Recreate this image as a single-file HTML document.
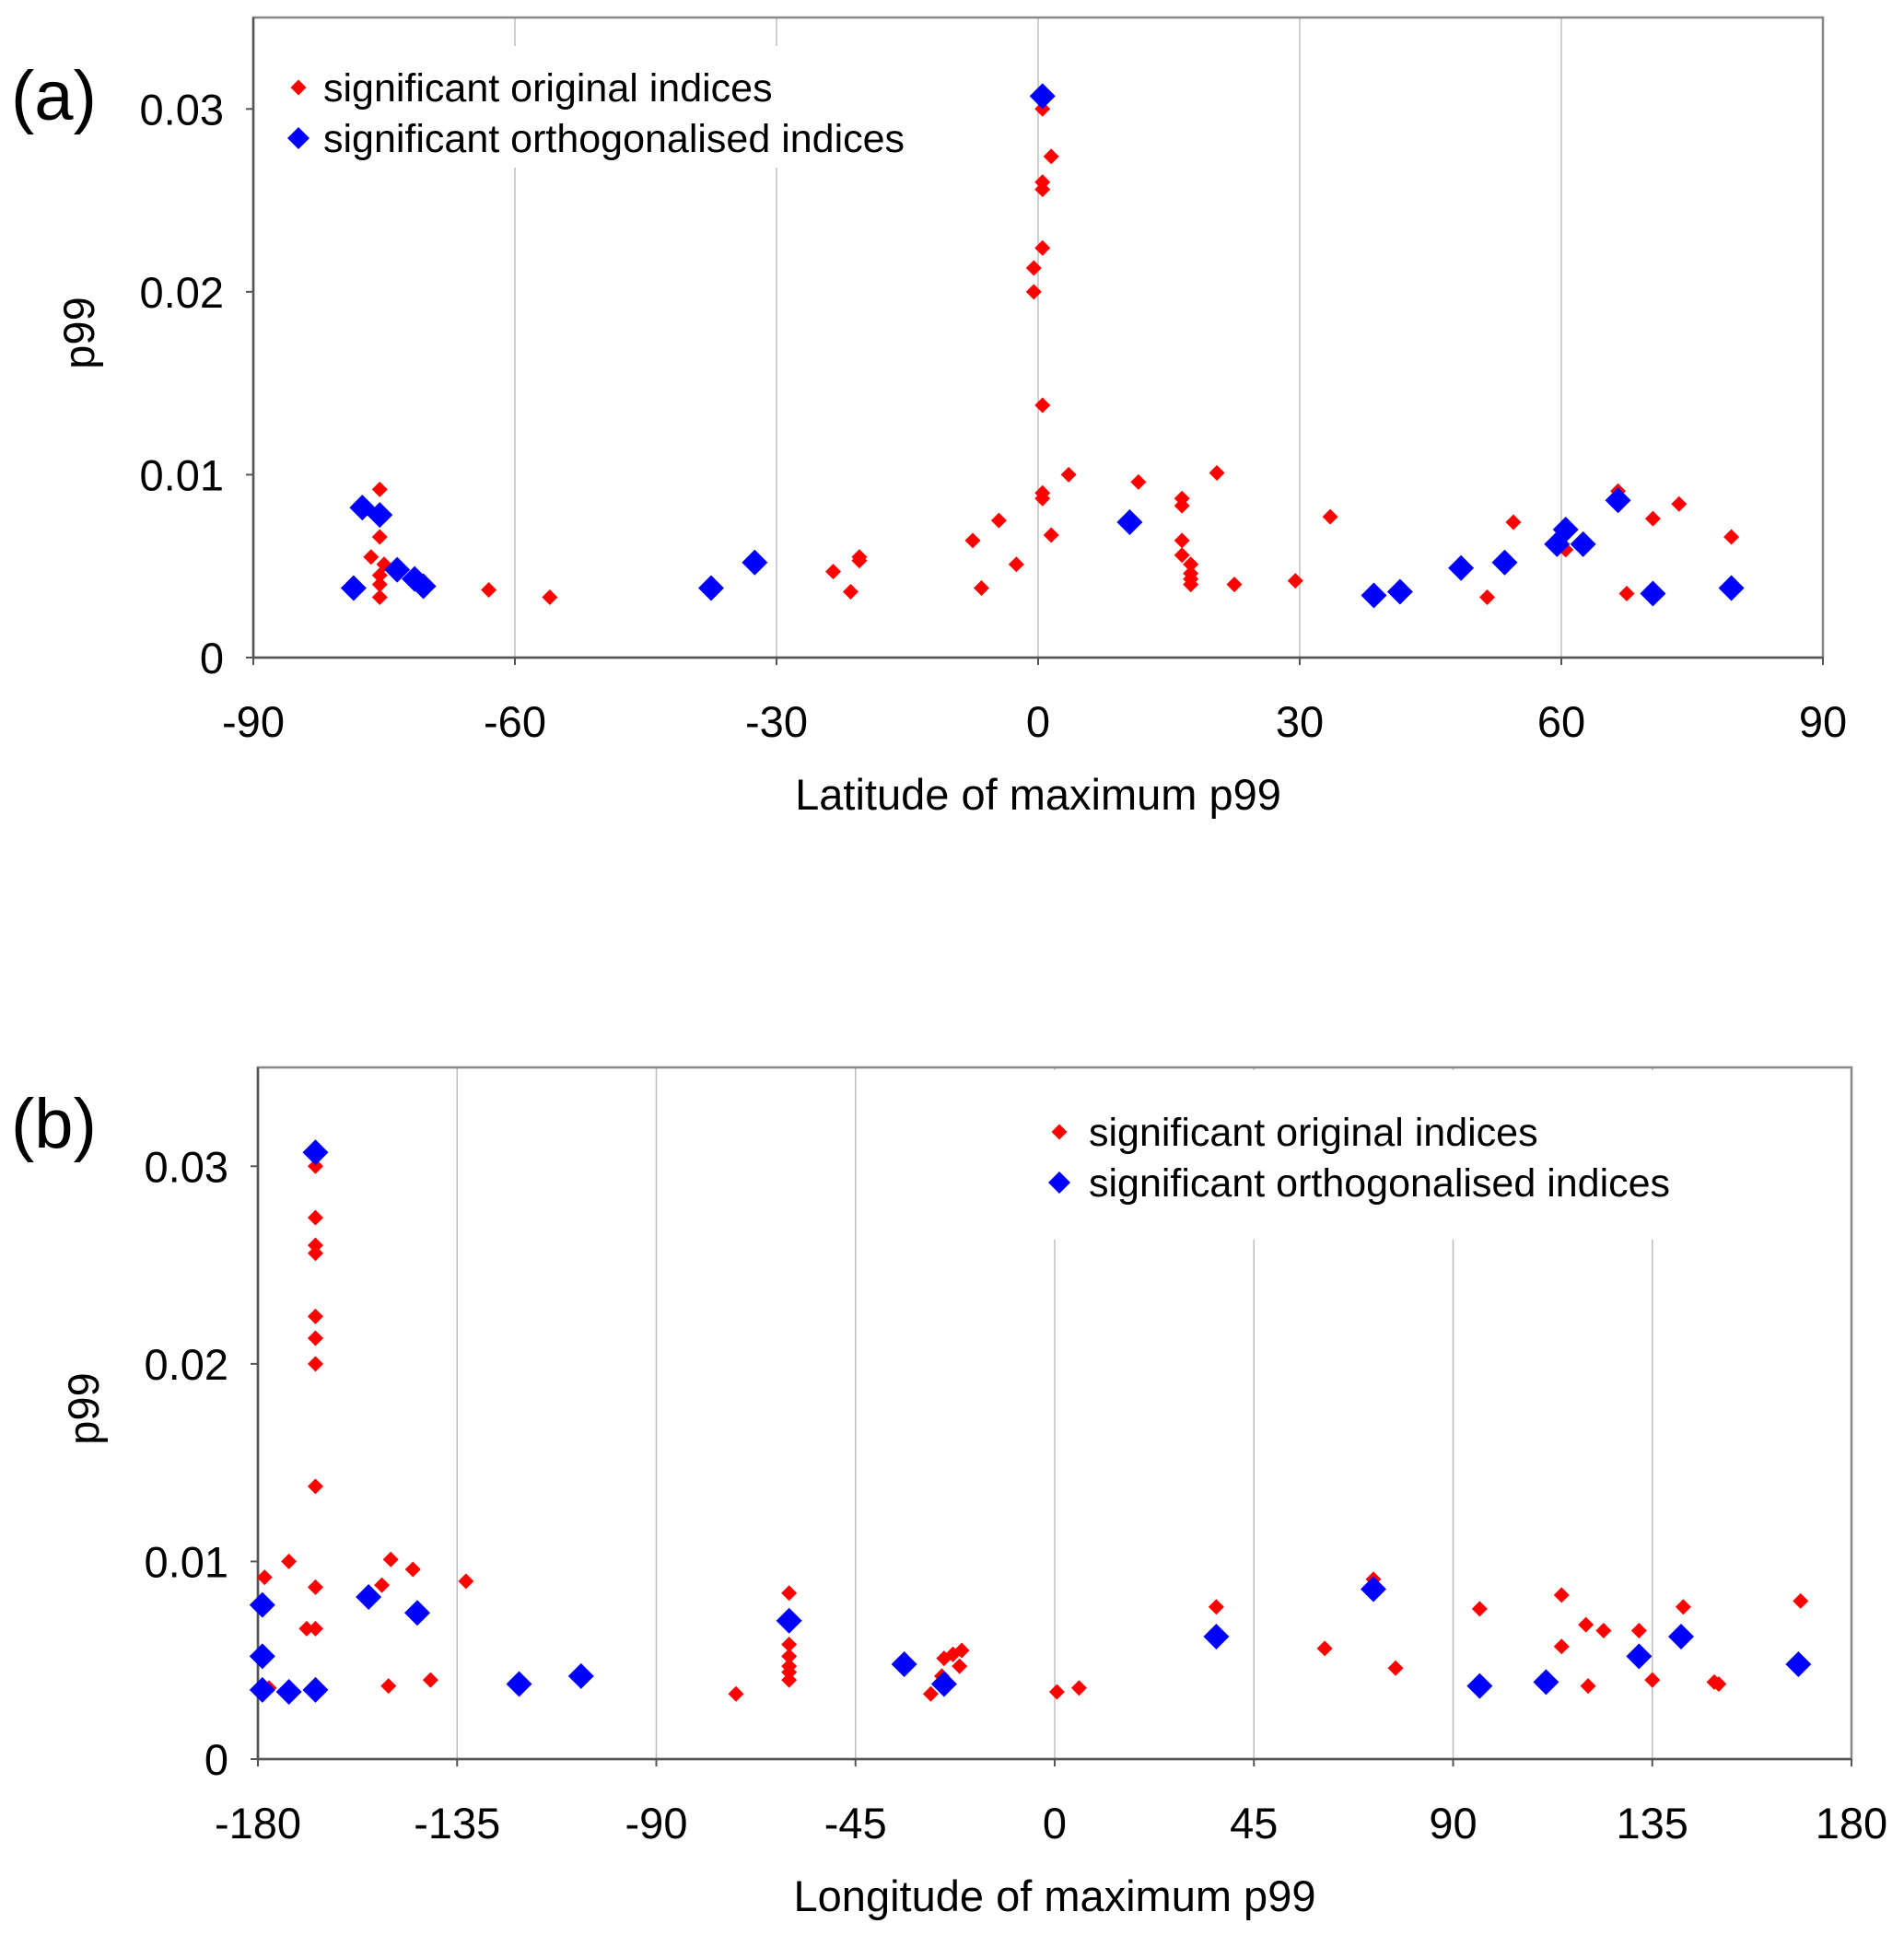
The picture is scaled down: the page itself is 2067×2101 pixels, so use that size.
<!DOCTYPE html>
<html><head><meta charset="utf-8"><style>
html,body{margin:0;padding:0;background:#fff}
svg{display:block;font-family:"Liberation Sans",Arial,sans-serif}
</style></head><body>
<svg id="chart" width="2067" height="2101" viewBox="0 0 2067 2101" xmlns="http://www.w3.org/2000/svg"></svg>
<script>
const latTicks=[-90,-60,-30,0,30,60,90];
const lonTicks=[-180,-135,-90,-45,0,45,90,135,180];
const yTicks=[0,0.01,0.02,0.03];
const yTickLabels=["0","0.01","0.02","0.03"];
const latRedX=[-75.5,-76.5,-75.5,-75,-75.5,-75.5,-75.5,-63,-56,-23.5,-21.5,-20.5,-20.5,-7.5,-4.5,-6.5,-2.5,0.5,1.5,0.5,0.5,0.5,-0.5,-0.5,0.5,0.5,0.5,1.5,3.5,11.5,16.5,16.5,16.5,16.5,17.5,17.5,17.5,17.5,20.5,22.5,29.5,33.5,51.5,54.5,60.5,66.5,67.5,70.5,73.5,79.5];
const latRedY=[0.0092,0.0055,0.0066,0.0051,0.0045,0.0040,0.0033,0.0037,0.0033,0.0047,0.0036,0.0053,0.0055,0.0064,0.0075,0.0038,0.0051,0.0300,0.0274,0.0260,0.0256,0.0224,0.0213,0.0200,0.0138,0.0090,0.0087,0.0067,0.0100,0.0096,0.0087,0.0083,0.0064,0.0056,0.0051,0.0046,0.0043,0.0040,0.0101,0.0040,0.0042,0.0077,0.0033,0.0074,0.0059,0.0091,0.0035,0.0076,0.0084,0.0066];
const latBlueX=[-78.5,-77.5,-75.5,-73.5,-71.5,-70.5,-37.5,-32.5,0.5,10.5,38.5,41.5,48.5,53.5,59.5,60.5,62.5,66.5,70.5,79.5];
const latBlueY=[0.0038,0.0082,0.0078,0.0048,0.0043,0.0039,0.0038,0.0052,0.0307,0.0074,0.0034,0.0036,0.0049,0.0052,0.0062,0.0070,0.0062,0.0086,0.0035,0.0038];
const lonRedX=[-178.5,-173,-167,-167,-167,-167,-167,-167,-167,-167,-167,-169,-167,-150,-152,-150.5,-145,-141,-133,-177.5,-72,-60,-60,-60,-60,-60,-60,-28,-25,-23,-21,-21.5,-25.5,0.5,5.5,36.5,61,77,72,96,114.5,114.5,120,120.5,124,132,135,142,149,150,168.5];
const lonRedY=[0.0092,0.0100,0.0300,0.0274,0.0260,0.0256,0.0224,0.0213,0.0200,0.0138,0.0087,0.0066,0.0066,0.0101,0.0088,0.0037,0.0096,0.0040,0.0090,0.0036,0.0033,0.0084,0.0058,0.0052,0.0047,0.0044,0.0040,0.0033,0.0051,0.0053,0.0055,0.0047,0.0042,0.0034,0.0036,0.0077,0.0056,0.0046,0.0091,0.0076,0.0083,0.0057,0.0068,0.0037,0.0065,0.0065,0.0040,0.0077,0.0039,0.0038,0.0080];
const lonBlueX=[-179,-179,-179,-173,-167,-167,-155,-144,-121,-107,-60,-34,-25,36.5,72,96,111,132,141.5,168];
const lonBlueY=[0.0078,0.0052,0.0035,0.0034,0.0035,0.0307,0.0082,0.0074,0.0038,0.0042,0.0070,0.0048,0.0038,0.0062,0.0086,0.0037,0.0039,0.0052,0.0062,0.0048];

const NS="http://www.w3.org/2000/svg";
const svg=document.getElementById('chart');
function mk(tag,attrs,parent,text){const e=document.createElementNS(NS,tag);for(const k in attrs)e.setAttribute(k,attrs[k]);if(text!==undefined)e.textContent=text;(parent||svg).appendChild(e);return e;}
function diamond(cx,cy,r){return `${cx},${cy-r} ${cx+r},${cy} ${cx},${cy+r} ${cx-r},${cy}`;}

function panel(p){
  const g=mk('g',{});
  
  
  const xs=v=>p.L+(v-p.xmin)/(p.xmax-p.xmin)*(p.R-p.L);
  const ys=v=>p.B-v/0.035*(p.B-p.T);
  p.xTicks.forEach(t=>{
    if(t!==p.xmin&&t!==p.xmax){
      const l=mk('line',{x1:xs(t),x2:xs(t),y1:p.T,y2:p.B,stroke:'#bdbdbd','stroke-width':1.5},g);
      
      
    }
  });
  const lb=mk('rect',{x:p.lg.x,y:p.lg.y,width:p.lg.w,height:p.lg.h,fill:'#fff'},g);
  
  
  const fr=mk('rect',{x:p.L,y:p.T,width:p.R-p.L,height:p.B-p.T,fill:'none',stroke:'#888','stroke-width':2.5},g);
  
  
  const xa=mk('line',{x1:p.L,x2:p.R,y1:p.B,y2:p.B,stroke:'#555','stroke-width':2.5},g);
  
  
  const ya=mk('line',{x1:p.L,x2:p.L,y1:p.T,y2:p.B,stroke:'#555','stroke-width':2.5},g);
  
  
  yTicks.forEach((t,i)=>{
    mk('line',{x1:p.L-8,x2:p.L,y1:ys(t),y2:ys(t),stroke:'#555','stroke-width':2},g);
    const tx=mk('text',{x:p.L-32,y:ys(t)+17,'font-size':47,'text-anchor':'end',fill:'#000'},g,yTickLabels[i]);
    
    
  });
  p.xTicks.forEach(t=>{
    mk('line',{x1:xs(t),x2:xs(t),y1:p.B,y2:p.B+8,stroke:'#555','stroke-width':2},g);
    const tx=mk('text',{x:xs(t),y:p.B+86,'font-size':47,'text-anchor':'middle',fill:'#000'},g,String(t));
    
    
  });
  const xt=mk('text',{x:(p.L+p.R)/2,y:p.B+165,'font-size':47,'text-anchor':'middle',fill:'#000'},g,p.xTitle);
  
  
  const yt=mk('text',{x:0,y:0,'font-size':47,'text-anchor':'middle',fill:'#000',transform:`translate(${p.L-173},${(p.T+p.B)/2-5}) rotate(-90)`},g,'p99');
  
  
  const pl=mk('text',{x:12,y:p.labelY,'font-size':76,fill:'#000'},g,p.label);
  
  
  p.redX.forEach((v,i)=>{
    const d=mk('polygon',{points:diamond(xs(v),ys(p.redY[i]),8.5),fill:'#ff0000'},g);
    
    
  });
  p.blueX.forEach((v,i)=>{
    const d=mk('polygon',{points:diamond(xs(v),ys(p.blueY[i]),14),fill:'#0000ff'},g);
    
    
  });
  const m1=mk('polygon',{points:diamond(p.lg.mx,p.lg.y1,8.5),fill:'#ff0000'},g);
  
  
  const t1=mk('text',{x:p.lg.tx,y:p.lg.y1+15,'font-size':43,fill:'#000'},g,'significant original indices');
  
  
  const m2=mk('polygon',{points:diamond(p.lg.mx,p.lg.y2,12),fill:'#0000ff'},g);
  
  
  const t2=mk('text',{x:p.lg.tx,y:p.lg.y2+15,'font-size':43,fill:'#000'},g,'significant orthogonalised indices');
  
  
}
panel({id:'latitude',L:275,R:1979,T:19,B:714,xmin:-90,xmax:90,xTicks:latTicks,xTitle:'Latitude of maximum p99',label:'(a)',labelY:130,
  redX:latRedX,redY:latRedY,blueX:latBlueX,blueY:latBlueY,
  lg:{x:283,y:50,w:720,h:132,mx:324,tx:351,y1:95,y2:150}});
panel({id:'longitude',L:280,R:2010,T:1159,B:1910,xmin:-180,xmax:180,xTicks:lonTicks,xTitle:'Longitude of maximum p99',label:'(b)',labelY:1246,
  redX:lonRedX,redY:lonRedY,blueX:lonBlueX,blueY:lonBlueY,
  lg:{x:1118,y:1162,w:730,h:184,mx:1150,tx:1182,y1:1229,y2:1284}});
</script>
</body></html>
